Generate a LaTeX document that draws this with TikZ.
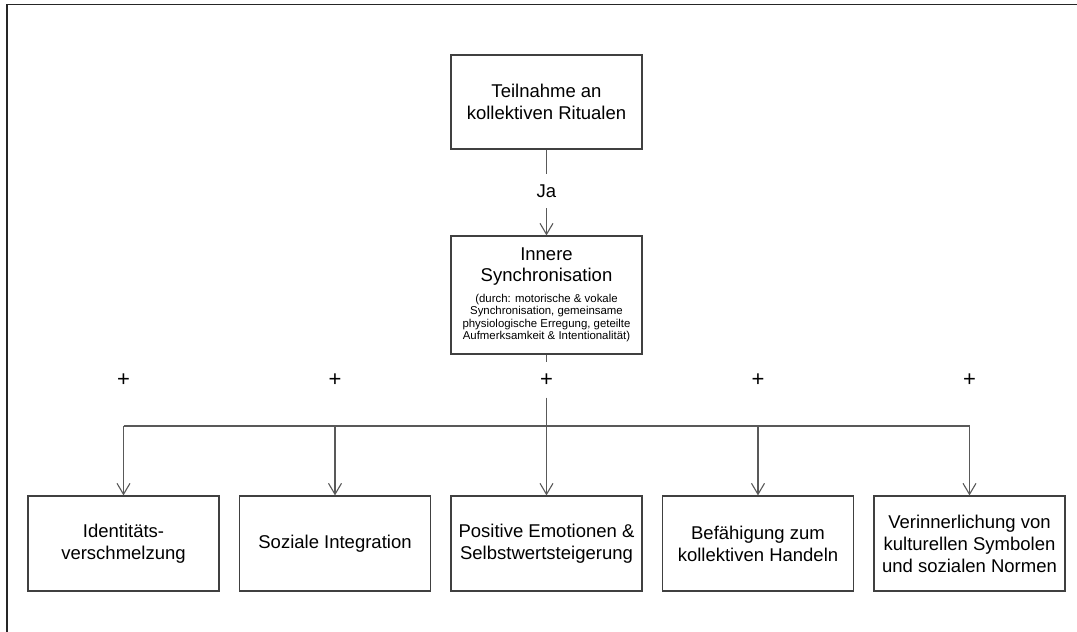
\documentclass[tikz,border=0pt]{standalone}
\usepackage{fontspec}
\setmainfont{Liberation Sans}
\usetikzlibrary{arrows.meta}
\tikzset{
  box/.style={draw=black!75, line width=1.2pt, minimum width=191pt, inner xsep=1pt, inner ysep=0pt,
    text width=189pt, align=flush center, font=\fontsize{18.5}{22}\selectfont},
  conn/.style={draw=black!65, line width=1.1pt},
  arr/.style={conn, -{Straight Barb[length=11pt,width=13pt,line width=1.1pt]}},
  lbl/.style={font=\fontsize{18.5}{22}\selectfont, inner sep=0pt},
  plus/.style={font=\fontsize{22}{24}\selectfont, inner sep=0pt},
}
\begin{document}
\begin{tikzpicture}[x=1pt,y=-1pt]
\useasboundingbox (0,0) rectangle (1077,632);
\fill[white] (0,0) rectangle (1077,632);
\draw[line width=1.6pt, black!85] (7,640) -- (7,4.5) -- (1085,4.5);

\node[box, minimum height=94pt] (top) at (546.5,102) {Teilnahme an\\kollektiven Ritualen};
\node[box, minimum height=118pt] (inner) at (546.5,295) {%
  \fontsize{18.5}{21}\selectfont Innere\\Synchronisation\par\vspace{8pt}%
  \fontsize{11.4}{12.4}\selectfont\lineskiplimit=-10pt\spaceskip=0pt\xspaceskip=0pt (durch: motorische \& vokale\\Synchronisation, gemeinsame\\physiologische Erregung, geteilte\\Aufmerksamkeit \& Intentionalität)\par};

\node[lbl, minimum height=34pt] (ja) at (546.5,191) {Ja};

\foreach \n/\x in {1/123.5,2/335,3/546.5,4/758,5/969.5}{
  \node[plus, minimum height=35pt] (p\n) at (\x,380) {+};
  \coordinate (bus\n) at (\x,426);
}

\node[box, minimum height=95pt] (b1) at (123.5,543.5) {Identitäts-\\verschmelzung};
\node[box, minimum height=95pt] (b2) at (335,543.5) {Soziale Integration};
\node[box, minimum height=95pt] (b3) at (546.5,543.5) {Positive Emotionen \&\\Selbstwertsteigerung};
\node[box, minimum height=95pt] (b4) at (758,543.5) {Befähigung zum\\kollektiven Handeln};
\node[box, minimum height=95pt] (b5) at (969.5,543.5) {Verinnerlichung von\\kulturellen Symbolen\\und sozialen Normen};

\draw[conn] (top) -- (ja);
\draw[arr] (ja) -- (inner);
\draw[conn] (inner) -- (p3);
\draw[conn] (p3) -- (bus3);
\draw[conn] (bus1) -- (bus5);
\foreach \n in {1,...,5}{
  \draw[arr] (bus\n) -- (b\n);
}
\end{tikzpicture}
\end{document}
